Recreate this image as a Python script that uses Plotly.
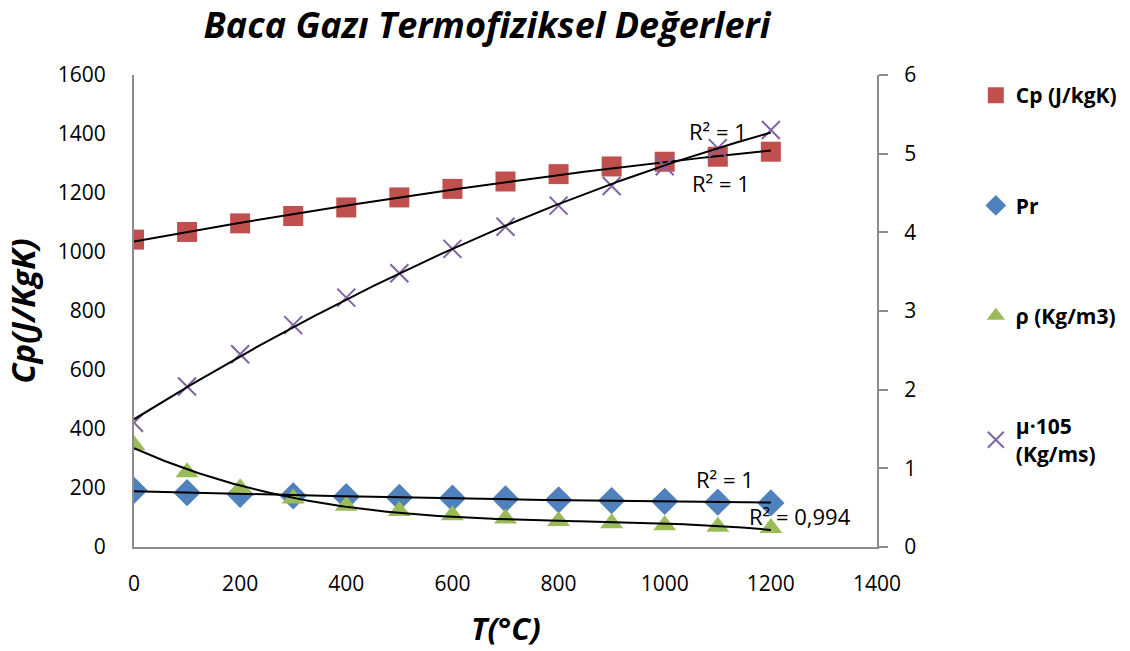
import numpy as np
import plotly.graph_objects as go

# Flue gas thermophysical properties vs temperature
T = [0, 100, 200, 300, 400, 500, 600, 700, 800, 900, 1000, 1100, 1200]
cp = [1042, 1068, 1097, 1122, 1151, 1185, 1214, 1239, 1264, 1290, 1306, 1323, 1340]
pr = [0.72, 0.69, 0.67, 0.65, 0.64, 0.63, 0.62, 0.61, 0.60, 0.59, 0.58, 0.57, 0.56]
rho = [1.295, 0.950, 0.748, 0.617, 0.525, 0.457, 0.405, 0.363, 0.330, 0.301, 0.275, 0.257, 0.240]
mu = [1.58, 2.04, 2.45, 2.82, 3.17, 3.48, 3.79, 4.07, 4.34, 4.59, 4.84, 5.07, 5.30]

x_ticks = [0, 200, 400, 600, 800, 1000, 1200, 1400]
y1_ticks = [0, 200, 400, 600, 800, 1000, 1200, 1400, 1600]
y2_ticks = [0, 1, 2, 3, 4, 5, 6]

FONT = "Open Sans"
RED, BLUE, GREEN, PURPLE = "#C0504D", "#4F81BD", "#9BBB59", "#8064A2"

fig = go.Figure()

fig.add_trace(go.Scatter(x=T, y=cp, mode="markers", name="Cp (J/kgK)",
                         legendgroup="a",
                         marker=dict(symbol="square", size=20, color=RED)))
fig.add_trace(go.Scatter(x=T, y=pr, mode="markers", name="Pr", yaxis="y2",
                         legendgroup="b",
                         marker=dict(symbol="diamond", size=21, color=BLUE)))
fig.add_trace(go.Scatter(x=T, y=rho, mode="markers", name="ρ (Kg/m3)", yaxis="y2",
                         legendgroup="c",
                         marker=dict(symbol="triangle-up", size=20, color=GREEN)))
fig.add_trace(go.Scatter(x=T, y=mu, mode="markers", name="μ·105<br>(Kg/ms)", yaxis="y2",
                         legendgroup="d",
                         marker=dict(symbol="x-thin", size=18,
                                     line=dict(width=2, color=PURPLE), color=PURPLE)))

# Polynomial trendlines
xs = np.linspace(0, 1200, 200)
trends = [(cp, 2, "y"), (pr, 2, "y2"), (rho, 3, "y2"), (mu, 2, "y2")]
for vals, deg, ax in trends:
    coef = np.polyfit(T, vals, deg)
    fig.add_trace(go.Scatter(x=xs, y=np.polyval(coef, xs), mode="lines", yaxis=ax,
                             showlegend=False, hoverinfo="skip",
                             line=dict(color="black", width=2)))

ann_font = dict(family=FONT, size=22, color="black")
for tx, ty, txt in [(1100, 1409, "R² = 1"), (1106, 1233, "R² = 1"),
                    (1114, 231, "R² = 1"), (1255, 105, "R² = 0,994")]:
    fig.add_annotation(x=tx, y=ty, xref="x", yref="y", text=txt, showarrow=False,
                       font=ann_font, bgcolor="rgba(0,0,0,0)")

# x-axis title placed below the tick labels
fig.add_annotation(x=0.5, y=-0.172, xref="paper", yref="paper",
                   text="<b><i>T(°C)</i></b>", showarrow=False,
                   xanchor="center", yanchor="middle",
                   font=dict(family=FONT, size=31, color="black"))

axis_font = dict(family=FONT, size=21, color="black")
fig.update_layout(
    width=1130, height=651,
    margin=dict(l=134, r=253, t=75, b=104, autoexpand=False),
    paper_bgcolor="white", plot_bgcolor="white",
    title=dict(text="<b><i>Baca Gazı Termofiziksel Değerleri</i></b>",
               x=487 / 1130, xanchor="center", y=1 - 25 / 651, yanchor="middle",
               font=dict(family=FONT, size=36, color="black")),
    xaxis=dict(range=[0, 1400], tickvals=x_ticks, showgrid=False, zeroline=False,
               showline=True, linecolor="#8c8c8c", linewidth=2, ticks="",
               tickfont=axis_font, ticklabelstandoff=17, automargin=False),
    yaxis=dict(range=[0, 1600], tickvals=y1_ticks, showgrid=False, zeroline=False,
               showline=True, linecolor="#8c8c8c", linewidth=2, ticks="",
               tickfont=axis_font, ticklabelstandoff=22, automargin=False,
               title=dict(text="<b><i>Cp(J/KgK)</i></b>", standoff=12,
                          font=dict(family=FONT, size=33, color="black"))),
    yaxis2=dict(range=[0, 6], tickvals=y2_ticks, overlaying="y", side="right",
                showgrid=False, zeroline=False, showline=True, linecolor="#8c8c8c",
                linewidth=2, ticks="outside", ticklen=9, tickwidth=2, tickcolor="#8c8c8c",
                tickfont=axis_font, ticklabelstandoff=12, automargin=False),
    legend=dict(x=1.133, y=1.0, xanchor="left", yanchor="top",
                font=dict(family=FONT, size=21, color="black", weight="bold"),
                tracegroupgap=80, itemsizing="trace", bgcolor="rgba(0,0,0,0)"),
)

fig.write_html("out.html")
